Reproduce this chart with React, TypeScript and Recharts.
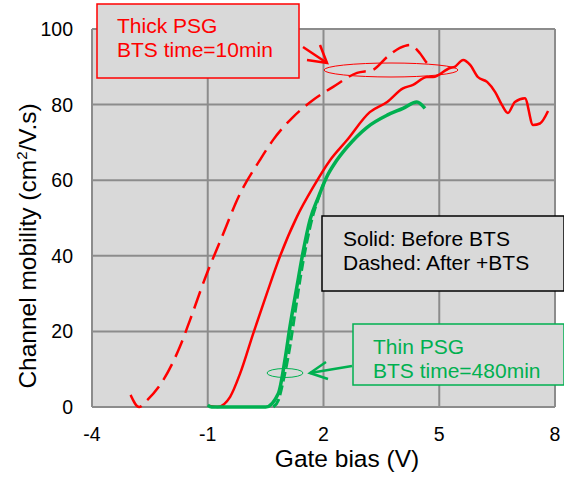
import React from 'react'
import { LineChart, Line, XAxis, YAxis, CartesianGrid } from 'recharts'

const FONT = "Arial, 'Liberation Sans', sans-serif"

// gate bias (V) / mobility (cm2/V.s)
const thickBeforeX = [-0.95, -0.75, -0.42, -0.16, 0.18, 0.53, 0.87, 1.31, 1.74, 2.17, 2.6, 3.2, 3.65, 4.06, 4.32, 4.68, 4.84, 5.28, 5.4, 5.62, 5.8, 6.0, 6.24, 6.45, 6.62, 6.78, 6.96, 7.22, 7.43, 7.61, 7.82]
const thickBeforeY = [0.3, 0, 2.7, 8.9, 19.5, 30, 39.8, 50.3, 58.3, 65.3, 70.5, 78, 80.7, 84.3, 85.2, 87.3, 87.3, 89.7, 90, 91.8, 90.5, 87.3, 86, 83.3, 80, 77.8, 80.7, 81.7, 74.6, 75, 78.3]

const thickAfterX = [-3.0, -2.78, -2.57, -2.16, -1.72, -1.46, -1.02, -0.68, -0.16, 0.35, 0.69, 1.21, 1.73, 2.25, 2.87, 3.28, 3.65, 3.98, 4.24, 4.5, 4.68, 4.84]
const thickAfterY = [3.2, 0, 1.8, 7, 16, 23, 35.4, 43.8, 56.5, 65.3, 70.6, 76.7, 81.2, 84.7, 88.4, 89.2, 92.6, 95, 95.8, 93.6, 91, 89.7]

const thinBeforeX = [-1.0, -0.9, 0.5, 0.83, 1.0, 1.13, 1.31, 1.48, 1.65, 1.87, 2.08, 2.3, 2.6, 3.13, 3.65, 4.06, 4.42, 4.63]
const thinBeforeY = [0.5, 0, 0, 3.6, 12.4, 21.2, 31.8, 41.5, 49.5, 55.6, 60.8, 64.6, 68.6, 74, 77.2, 79, 80.7, 79]

const thinAfterX = [0.7, 0.83, 0.96, 1.13, 1.26, 1.39, 1.56, 1.74, 1.86, 2.0]
const thinAfterY = [0, 1.8, 7.1, 16, 24.8, 33.6, 43.3, 51.2, 55, 59]

const xTicks = [-4, -1, 2, 5, 8]
const yTicks = [0, 20, 40, 60, 80, 100]

const toPoints = (xs: number[], ys: number[]) => xs.map((x, i) => ({ x, y: ys[i] }))

const RED = '#ff0000'
const GREEN = '#00b050'

export default function App() {
  const tick = { fill: '#000', fontSize: 19.5, fontFamily: FONT }
  return (
    <div style={{ position: 'absolute', left: 0, top: 0, width: 564, height: 483, background: '#fff' }}>
      <LineChart width={564} height={483} margin={{ top: 29, right: 9, bottom: 0, left: 0 }}>
        <CartesianGrid fill="#d9d9d9" stroke="#8c8c8c" strokeWidth={2} />
        <XAxis
          type="number"
          dataKey="x"
          domain={[-4, 8]}
          ticks={xTicks}
          height={76}
          axisLine={false}
          tickLine={false}
          tickSize={0}
          tickMargin={20}
          tick={tick}
        />
        <YAxis
          type="number"
          domain={[0, 100]}
          ticks={yTicks}
          width={92}
          axisLine={false}
          tickLine={false}
          tickSize={0}
          tickMargin={19}
          tick={tick}
        />
        <Line data={toPoints(thickAfterX, thickAfterY)} dataKey="y" type="monotone" stroke={RED} strokeWidth={2.5} strokeDasharray="18 8" dot={false} isAnimationActive={false} />
        <Line data={toPoints(thickBeforeX, thickBeforeY)} dataKey="y" type="monotone" stroke={RED} strokeWidth={2.5} dot={false} isAnimationActive={false} />
        <Line data={toPoints(thinAfterX, thinAfterY)} dataKey="y" type="monotone" stroke={GREEN} strokeWidth={3} strokeDasharray="10 4" dot={false} isAnimationActive={false} />
        <Line data={toPoints(thinBeforeX, thinBeforeY)} dataKey="y" type="monotone" stroke={GREEN} strokeWidth={3.5} dot={false} isAnimationActive={false} />
      </LineChart>

      {/* annotations */}
      <svg width={564} height={483} style={{ position: 'absolute', left: 0, top: 0, pointerEvents: 'none' }} fontFamily={FONT}>
        <text x={0} y={0} transform="translate(36,246) rotate(-90)" textAnchor="middle" fontSize={24.5} fill="#000">
          <tspan>Channel mobility (cm</tspan>
          <tspan dy={-9} fontSize={15}>2</tspan>
          <tspan dy={9}>/V.s)</tspan>
        </text>
        <text x={347} y={467} textAnchor="middle" fontSize={24.5} fill="#000">Gate bias (V)</text>

        <rect x={97} y={4} width={202} height={74} fill="#d9d9d9" stroke={RED} strokeWidth={1.5} />
        <text x={117} y={33} fontSize={21} fill={RED}>Thick PSG</text>
        <text x={117} y={57} fontSize={21} fill={RED}>BTS time=10min</text>
        <g stroke={RED} strokeWidth={2.5} fill="none">
          <line x1={303} y1={47} x2={327} y2={63} />
          <polyline points="307,60 327,63 320,45" />
        </g>
        <ellipse cx={391} cy={70} rx={67} ry={7} fill="none" stroke={RED} strokeWidth={1} />

        <rect x={322} y={216} width={242} height={75} fill="#d9d9d9" stroke="#000" strokeWidth={1.5} />
        <text x={343} y={246} fontSize={21} fill="#000">Solid: Before BTS</text>
        <text x={343} y={270} fontSize={21} fill="#000">Dashed: After +BTS</text>

        <rect x={353} y={324} width={211} height={61} fill="#d9d9d9" stroke={GREEN} strokeWidth={1.5} />
        <text x={373} y={354} fontSize={21} fill={GREEN}>Thin PSG</text>
        <text x={373} y={378} fontSize={21} fill={GREEN}>BTS time=480min</text>
        <g stroke={GREEN} strokeWidth={2.5} fill="none">
          <line x1={352} y1={366} x2={310} y2={373} />
          <polyline points="326,362 310,373 328,379" />
        </g>
        <ellipse cx={285} cy={373} rx={18} ry={4.5} fill="none" stroke={GREEN} strokeWidth={1} />
      </svg>
    </div>
  )
}
